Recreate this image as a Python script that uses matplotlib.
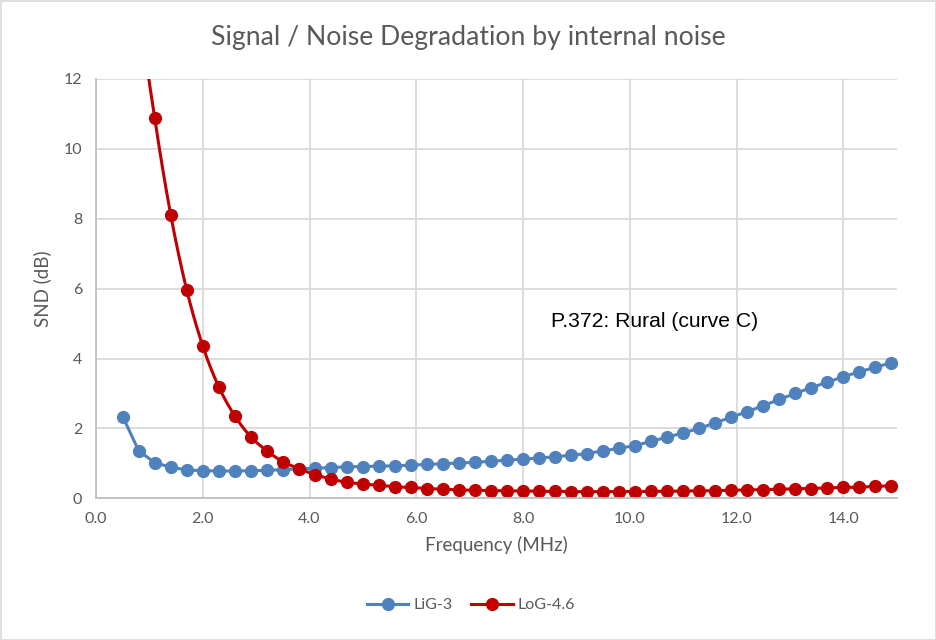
import numpy as np
import matplotlib
matplotlib.use('Agg')
import matplotlib.pyplot as plt
from matplotlib.patches import Rectangle

# data
freq = [0.5, 0.8, 1.1, 1.4, 1.7, 2.0, 2.3, 2.6, 2.9, 3.2, 3.5, 3.8, 4.1, 4.4, 4.7,
        5.0, 5.3, 5.6, 5.9, 6.2, 6.5, 6.8, 7.1, 7.4, 7.7, 8.0, 8.3, 8.6, 8.9, 9.2,
        9.5, 9.8, 10.1, 10.4, 10.7, 11.0, 11.3, 11.6, 11.9, 12.2, 12.5, 12.8, 13.1,
        13.4, 13.7, 14.0, 14.3, 14.6, 14.9]
lig3 = [2.34, 1.36, 1.02, 0.89, 0.81, 0.79, 0.78, 0.78, 0.79, 0.80, 0.82, 0.84, 0.86,
        0.88, 0.90, 0.91, 0.92, 0.93, 0.95, 0.97, 0.99, 1.01, 1.03, 1.06, 1.09, 1.12,
        1.15, 1.19, 1.23, 1.28, 1.36, 1.43, 1.51, 1.63, 1.75, 1.87, 2.00, 2.16, 2.32,
        2.48, 2.65, 2.83, 3.00, 3.17, 3.32, 3.48, 3.62, 3.75, 3.88]
log46 = [19.0, 14.2, 10.88, 8.11, 5.96, 4.36, 3.19, 2.36, 1.76, 1.36, 1.05, 0.85, 0.68,
         0.55, 0.46, 0.41, 0.37, 0.33, 0.31, 0.28, 0.26, 0.24, 0.23, 0.22, 0.21, 0.21,
         0.20, 0.20, 0.19, 0.19, 0.19, 0.19, 0.19, 0.20, 0.20, 0.21, 0.21, 0.22, 0.23,
         0.24, 0.25, 0.26, 0.27, 0.28, 0.30, 0.31, 0.32, 0.34, 0.36]
xticks = [0, 2, 4, 6, 8, 10, 12, 14]
yticks = [0, 2, 4, 6, 8, 10, 12]

grey = '#595959'
blue = '#4F81BD'
red = '#C00000'
plt.rcParams['font.family'] = ['Lato', 'DejaVu Sans']


def smooth(x, y, n=20):
    # catmull-rom curve through the points, like Excel's smoothed line
    x = np.asarray(x, float)
    y = np.asarray(y, float)
    xs, ys = [], []
    for i in range(len(x) - 1):
        i0 = max(i - 1, 0)
        i3 = min(i + 2, len(x) - 1)
        m1 = (y[i + 1] - y[i0]) / (x[i + 1] - x[i0]) * (x[i + 1] - x[i])
        m2 = (y[i3] - y[i]) / (x[i3] - x[i]) * (x[i + 1] - x[i])
        t = np.linspace(0, 1, n, endpoint=False)
        h00 = 2 * t**3 - 3 * t**2 + 1
        h10 = t**3 - 2 * t**2 + t
        h01 = -2 * t**3 + 3 * t**2
        h11 = t**3 - t**2
        xs.append(x[i] + t * (x[i + 1] - x[i]))
        ys.append(h00 * y[i] + h10 * m1 + h01 * y[i + 1] + h11 * m2)
    xs.append([x[-1]])
    ys.append([y[-1]])
    return np.concatenate(xs), np.concatenate(ys)


fig = plt.figure(figsize=(9.37, 6.4), dpi=100)
ax = fig.add_axes([96 / 937, 1 - 498.3 / 640, 800.7 / 937, 419.3 / 640])

ax.plot(freq, lig3, color=blue, lw=2.2, marker='o', ms=8.5, label='LiG-3')
sx, sy = smooth(freq, log46)
ax.plot(sx, sy, color=red, lw=2.2)
ax.plot(freq, log46, color=red, lw=0, marker='o', ms=8.5)
# legend proxy for the red series
ax.plot([], [], color=red, lw=2.2, marker='o', ms=8.5, label='LoG-4.6')

ax.set_xlim(0, 15)
ax.set_ylim(0, 12)
ax.set_xticks(xticks)
ax.set_xticklabels(['%.1f' % v for v in xticks])
ax.set_yticks(yticks)
ax.grid(True, color='#D9D9D9', lw=1.3)
ax.set_axisbelow(True)
for s in ['top', 'right']:
    ax.spines[s].set_visible(False)
for s in ['left', 'bottom']:
    ax.spines[s].set_color('#BFBFBF')
    ax.spines[s].set_linewidth(1.3)
ax.tick_params(length=0, labelsize=11.5, colors=grey, pad=10)

ax.set_xlabel('Frequency (MHz)', fontsize=13.5, color=grey, labelpad=7)
ax.set_ylabel('SND (dB)', fontsize=13.5, color=grey, labelpad=9)
fig.suptitle('Signal / Noise Degradation by internal noise', fontsize=19.2,
             color=grey, y=1 - 38 / 640, va='center')

ax.text(8.52, 5.07, 'P.372: Rural (curve C)', fontsize=15.2, color='black',
        family='Liberation Sans', va='center', ha='left')

fig.legend(loc='center', bbox_to_anchor=(471 / 937, 1 - 605 / 640), ncol=2,
           frameon=False, fontsize=11.5, labelcolor=grey, handlelength=2.6,
           columnspacing=1.2, handletextpad=0.3)

fig.patches.append(Rectangle((0.5 / 937, 0.5 / 640), 1 - 1.5 / 937, 1 - 1.5 / 640,
                             transform=fig.transFigure, fill=False,
                             edgecolor='#D9D9D9', lw=1.2))

fig.savefig('out.png', dpi=100)
